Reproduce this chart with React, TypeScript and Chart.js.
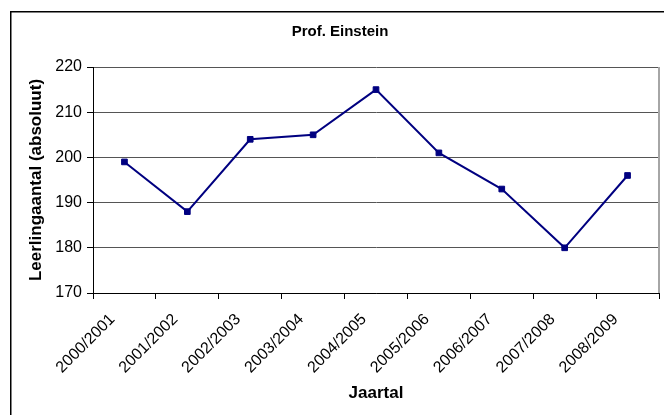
import React, { useEffect, useRef } from 'react';
import { Chart, registerables } from 'chart.js';

Chart.register(...registerables);

const categories = ['2000/2001', '2001/2002', '2002/2003', '2003/2004', '2004/2005', '2005/2006', '2006/2007', '2007/2008', '2008/2009'];
const values = [199, 188, 204, 205, 215, 201, 193, 180, 196];
const yMin = 170;
const yMax = 220;
const yStep = 10;
const chartTitle = 'Prof. Einstein';
const xTitle = 'Jaartal';
const yTitle = 'Leerlingaantal (absoluut)';

const FONT = '"Liberation Sans", Arial, sans-serif';

export default function App() {
  const ref = useRef<HTMLCanvasElement | null>(null);

  useEffect(() => {
    if (!ref.current) return;
    const framePlugin = {
      id: 'frame',
      beforeDraw(chart: any) {
        const ctx = chart.ctx;
        ctx.save();
        ctx.fillStyle = '#ffffff';
        ctx.fillRect(0, 0, chart.width, chart.height);
        ctx.strokeStyle = '#000000';
        ctx.lineWidth = 1.5;
        ctx.strokeRect(10.75, 11.75, 700, 500);
        ctx.font = 'bold 15px ' + FONT;
        ctx.fillStyle = '#000000';
        ctx.textAlign = 'center';
        ctx.textBaseline = 'middle';
        ctx.fillText(chartTitle, 340, 32);
        ctx.restore();
      },
      beforeDatasetsDraw(chart: any) {
        const { ctx, chartArea } = chart;
        ctx.save();
        ctx.strokeStyle = '#a6a6a6';
        ctx.lineWidth = 2;
        ctx.beginPath();
        ctx.moveTo(chartArea.right, chartArea.top);
        ctx.lineTo(chartArea.right, chartArea.bottom);
        ctx.stroke();
        ctx.restore();
      },
    };

    const chart = new Chart(ref.current, {
      type: 'line',
      data: {
        labels: categories,
        datasets: [
          {
            data: values,
            borderColor: '#000080',
            backgroundColor: '#000080',
            borderWidth: 2,
            pointStyle: 'rect',
            pointRadius: 4,
            pointBorderWidth: 1,
            pointBackgroundColor: '#000080',
            pointBorderColor: '#000080',
            tension: 0,
            fill: false,
          },
        ],
      },
      options: {
        responsive: false,
        animation: false,
        layout: { padding: { top: 67, right: 5, bottom: 0, left: 0 } },
        plugins: {
          legend: { display: false },
          title: { display: false },
          tooltip: { enabled: false },
        },
        scales: {
          x: {
            type: 'category',
            offset: true,
            grid: {
              offset: true,
              drawOnChartArea: false,
              drawTicks: true,
              tickLength: 6,
              tickColor: '#000000',
            },
            border: { color: '#000000', width: 1 },
            ticks: {
              autoSkip: false,
              minRotation: 45,
              maxRotation: 45,
              color: '#000000',
              padding: 11,
              labelOffset: -12,
              font: { family: FONT, size: 16 },
            },
            title: {
              display: true,
              text: xTitle,
              color: '#000000',
              font: { family: FONT, size: 17, weight: 'bold' },
              padding: { top: 0, bottom: 11 },
            },
            afterFit(scale: any) {
              scale.height = 122;
            },
          },
          y: {
            min: yMin,
            max: yMax,
            ticks: {
              stepSize: yStep,
              color: '#000000',
              padding: 5,
              font: { family: FONT, size: 16 },
            },
            grid: {
              color: '#555555',
              tickColor: '#000000',
              tickLength: 6,
              lineWidth: 1,
            },
            border: { color: '#000000', width: 1 },
            title: {
              display: true,
              text: yTitle,
              color: '#000000',
              font: { family: FONT, size: 17, weight: 'bold' },
              padding: { top: 26, bottom: 0 },
            },
            afterFit(scale: any) {
              scale.width = 93;
            },
          },
        },
      },
      plugins: [framePlugin],
    });
    return () => chart.destroy();
  }, []);

  return (
    <div style={{ position: 'absolute', left: 0, top: 0, width: 664, height: 415 }}>
      <canvas ref={ref} width={664} height={415} style={{ display: 'block' }} />
    </div>
  );
}
